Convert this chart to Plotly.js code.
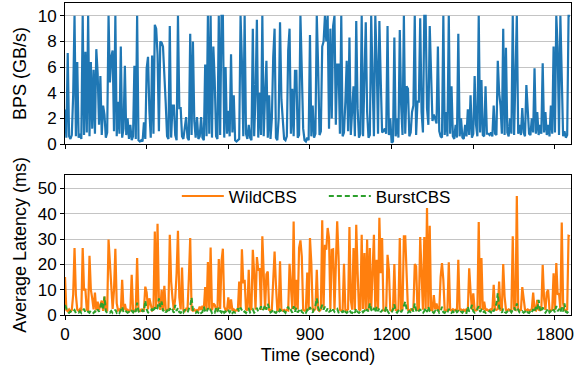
<!DOCTYPE html>
<html>
<head>
<meta charset="utf-8">
<script src="https://cdn.plot.ly/plotly-3.0.1.min.js"></script>
<style>html,body{margin:0;padding:0;background:#fff;}#chart{width:584px;height:366px;}</style>
</head>
<body>
<div id="chart"></div>
<script>
// Sampling interval of the series (seconds)
const STEP = 5;

// BPS (GB/s), one value per 5 s
const bps = [
2.7,0.5,7.1,0.6,0.4,0.7,3.8,10,0.6,6.4,
0.5,0.8,0.4,10,0.7,7.2,0.9,10,0.6,6.4,
1.2,5.8,0.8,7.4,5.5,1.5,5.3,0.7,3.0,2.3,
0.5,0.9,10,4.8,6.8,7.3,1.0,10,0.6,3.3,
0.8,7.6,0.5,1.2,6.1,0.7,2.0,0.4,1.5,0.3,
0.6,6.1,0.4,10,0.3,0.2,0.3,0.2,1.7,0.4,
5.9,6.8,2.6,0.5,6.9,0.8,9.3,9.0,7.0,1.0,
8.0,7.9,7.6,5.8,3.2,0.6,0.4,9.2,0.5,3.0,
3.0,0.7,0.3,10,2.8,2.8,0.6,0.4,1.5,2.1,
0.5,0.3,8.6,0.7,8.0,1.8,0.5,2.1,0.4,0.6,
2.1,0.5,0.3,6.2,0.6,10,0.8,10,0.5,7.6,
5.0,0.6,0.4,10,0.7,10,10,0.5,6.0,0.8,
2.6,0.6,7.0,0.9,3.8,0.3,0.2,0.3,0.4,10,
6.4,0.6,10,0.8,0.4,1.5,0.5,0.3,9.0,0.6,
3.8,9.7,0.5,4.0,0.7,10,0.6,3.8,6.5,0.5,
3.8,0.4,2.0,6.8,9.0,0.5,0.3,2.0,9.5,3.5,
2.0,0.4,0.3,0.6,7.3,9.0,0.8,4.3,0.6,5.7,
5.7,0.5,0.7,10,5.7,1.2,0.3,0.2,0.5,0.3,
8.5,0.6,3.0,0.5,0.8,10,6.0,0.7,1.0,7.6,
8.0,10,8.0,10,1.2,9.0,2.0,9.2,10,1.5,
6.2,6.2,0.8,10,0.6,0.9,3.3,6.5,1.0,8.3,
0.7,2.8,4.5,0.6,9.6,2.8,0.5,0.8,10,0.6,
6.5,9.5,2.5,0.5,0.7,10,5.0,0.6,10,6.5,
0.8,9.6,5.0,0.9,1.0,1.2,0.8,9.2,0.7,2.0,
0.1,0.2,8.3,0.6,2.0,0.5,8.9,3.0,0.7,10,
0.8,4.5,4.3,0.6,0.9,2.5,3.0,10,0.7,3.3,
3.3,9.8,2.5,0.9,10,10,2.8,1.5,9.2,5.0,
1.8,2.3,1.9,1.6,7.6,1.0,0.6,0.5,10,0.7,
2.5,0.6,10,0.8,4.5,0.6,0.4,1.5,0.5,8.6,
0.6,2.0,0.5,0.4,1.5,0.6,2.7,0.7,3.8,0.5,
0.8,5.3,1.5,0.6,10,0.9,5.0,0.7,0.6,4.5,
0.8,0.8,0.7,0.9,0.6,3.0,0.8,0.7,6.5,4.0,
3.0,0.8,9.0,0.7,7.5,0.9,0.6,2.0,0.8,10,
0.7,6.5,10,0.8,1.5,0.7,2.8,0.9,0.6,4.6,
2.6,0.8,0.7,2.0,0.9,5.9,0.8,2.5,0.7,1.5,
0.8,6.3,0.9,2.5,0.7,1.5,0.6,3.0,0.8,7.6,
0.9,10,7.5,0.7,10,4.5,0.6,1.0,0.5,0.7,
10,10
];

// Average latency (ms), WildCBS
const wildCBS = [
15,2,1.5,2.2,1.4,2.0,8,26.5,8,2.1,
1.6,2.3,1.5,26.5,10,10,2.0,1.7,23.4,10,
6.6,2.2,8.9,1.8,5.3,2.0,4.0,5.7,1.6,7.3,
2.0,1.5,29.8,19.2,13.2,2.4,9.7,26.2,4.6,1.8,
2.2,1.5,13.9,2.0,4.4,1.7,2.1,1.4,2.0,15.9,
2.0,1.6,2.3,22.5,1.8,1.5,2.1,1.6,2.0,11.2,
8.9,2.2,6.6,3.3,1.8,2.2,33,2.5,36.1,5.3,
2.0,10,1.8,11.5,2.1,1.6,2.3,31.7,13.2,6.6,
2.0,6.6,16.5,33.3,6.9,2.2,18.8,1.9,1.5,2.4,
2.0,14.5,30.4,2.1,1.7,2.2,1.5,2.0,1.8,3.3,
2.0,3.6,2.2,11,2.0,20.9,2.3,26.7,1.9,4.6,
4.0,2.1,1.7,22.1,2.4,21.2,26.2,3.3,2.0,1.6,
7,2.1,6.2,1.7,2.2,1.5,2.0,1.8,13.2,2.5,
26,12.6,13.9,2.2,1.8,17.9,2.0,2.4,25.8,16.5,
2.1,22.9,17.9,18.1,2.0,31.1,19.2,2.2,16.1,17.2,
2.0,1.6,2.3,16.5,25.1,11.9,2.0,1.8,21.2,2.2,
1.7,2.0,1.5,2.1,1.8,20.2,8.6,2.3,37,2.0,
13.9,2.2,26.5,29.5,23.1,2.0,1.7,2.2,16.8,2.0,
30.4,20.5,2.1,1.8,2.4,17.9,2.0,1.6,2.2,37.4,
2.5,27.8,25.8,34.4,30.4,2.3,25.8,26,2.1,25.8,
37,23.1,2.0,1.7,2.2,20.2,2.0,1.8,2.3,34.8,
6,2.1,26.5,2.0,35.7,17.2,2.2,1.8,31.7,2.4,
24.5,2.0,29.8,1.9,26.5,2.2,21.2,31.7,2.0,21.8,
2.3,38.4,16.5,30.4,2.0,1.7,2.2,23.8,17.9,2.0,
1.6,2.2,20.1,2.0,1.8,2.3,30.4,2.1,2.4,31.1,
31.1,19.2,2.0,1.7,2.2,1.9,2.3,20.1,19.2,2.0,
2.2,30.8,11.9,2.1,30.8,2.4,42.3,2.2,35.3,2.0,
1.8,7.9,2.2,4.6,1.9,2.1,15,20.5,13.9,2.0,
1.7,2.2,20.8,2.0,1.8,2.3,1.9,2.1,1.7,21.8,
2.0,2.2,1.8,2.1,1.6,2.3,2.0,18.5,9.3,2.1,
8.6,2.0,1.8,2.2,36.8,2.4,22.5,2.0,5.3,1.9,
2.2,1.7,2.0,2.3,1.8,11.9,2.1,2.0,2.4,13.2,
2.0,2.2,20.1,7.3,2.0,1.8,2.2,1.9,2.1,31.1,
2.3,2.0,47,2.2,1.8,2.0,11,7.3,2.1,1.9,
2.2,1.7,2.0,2.3,8.9,2.0,1.8,6,2.1,1.9,
2.2,19.8,6.6,2.0,8.9,10,2.1,1.8,2.2,16.5,
2.0,20.5,8,8.6,2.1,36.6,4.6,2.0,1.8,2.2,
31.3,31.1
];

// Average latency (ms), BurstCBS
const burstCBS = [
4,2.6,1.2,0.8,1.5,0.9,1.3,2.0,0.7,1.1,
0.9,1.6,0.8,1.4,2.4,1.0,0.7,1.3,0.9,1.8,
1.1,0.8,1.5,0.9,2.2,1.3,3.0,5.3,2.0,7.3,
1.5,0.8,1.2,0.9,1.6,0.8,1.3,2.1,0.9,1.4,
0.8,1.9,3.3,1.0,0.8,1.4,0.9,1.2,0.7,1.6,
1.0,2.3,1.2,4.9,1.5,0.8,1.1,2.0,1.3,5.7,
2.2,1.0,0.8,1.5,2.5,1.2,3.1,1.8,2.6,6.6,
3.2,5.3,1.5,2.3,1.0,1.8,0.9,2.7,1.4,2.0,
0.9,4.0,1.6,2.8,1.1,0.8,1.7,1.0,2.2,1.3,
0.9,2.4,3.5,6.9,2.0,1.1,0.8,1.4,0.9,1.6,
0.8,1.2,3.3,1.5,0.9,2.7,1.4,2.0,0.8,1.3,
0.9,2.6,1.2,3.0,1.5,1.0,2.2,0.9,1.4,0.8,
1.7,1.0,2.0,0.8,1.3,0.9,1.5,2.6,1.2,2.9,
1.6,0.9,1.4,0.8,1.8,2.4,1.0,1.6,2.2,0.9,
1.5,2.8,1.3,2.0,3.4,1.8,2.5,3.9,2.1,4.4,
2.2,1.0,1.4,2.3,1.1,0.8,1.6,0.9,2.1,1.2,
0.8,1.5,0.9,2.4,3.3,1.4,2.0,0.9,3.5,1.3,
2.9,1.0,1.7,2.6,1.2,0.8,1.5,0.9,2.0,1.3,
3.1,1.6,0.9,2.7,3.5,6.6,3.0,1.5,2.3,4.0,
2.1,3.3,1.4,2.6,1.1,1.9,0.9,2.2,1.3,2.0,
2.4,1.0,0.8,1.6,0.9,2.3,1.2,0.8,1.5,2.1,
1.0,0.8,1.8,0.9,2.6,1.2,0.8,1.4,2.0,1.1,
1.7,0.9,2.3,1.4,4.6,2.0,1.2,2.8,1.0,3.3,
1.5,2.7,1.1,1.8,0.9,1.4,3.3,1.6,0.8,1.3,
0.9,2.2,4.2,1.5,0.9,1.7,2.4,1.1,2.0,3.6,
5.3,2.2,1.0,1.6,0.9,2.5,1.3,4.6,1.8,0.9,
1.4,2.3,1.0,0.8,1.6,2.8,1.2,3.3,1.5,0.9,
1.3,0.8,1.6,1.0,2.1,0.9,1.4,3.3,1.1,0.8,
1.7,1.0,2.4,1.2,0.8,1.5,0.9,2.0,1.1,1.6,
0.8,1.3,0.9,1.8,1.0,0.8,3.3,1.4,2.0,4.0,
1.5,0.9,1.3,2.2,3.5,1.2,2.0,0.9,1.5,0.8,
1.2,0.9,1.6,1.0,2.3,1.4,2.8,4.5,8.6,3.0,
1.6,0.9,2.4,1.2,0.8,1.4,0.9,1.7,1.0,2.2,
3.0,1.8,4.6,2.0,1.0,0.8,1.5,0.9,1.3,2.1,
1.0,0.8,1.6,0.9,2.3,1.1,3.2,2.0,6.0,2.4,
1.2,3.0,1.4,0.9,1.7,2.6,1.0,1.5,0.9,2.2,
1.1,3.6,1.5,2.4,1.0,3.0,1.4,4.6,1.2,0.9,
1.5,1.1
];

const time = bps.map((_, i) => i * STEP);

const xTickVals = [0, 300, 600, 900, 1200, 1500, 1800];
const xTickText = ['0', '300', '600', '900', '1200', '1500', '1800'];
const bpsTicks = [0, 2, 4, 6, 8, 10];
const latTicks = [0, 10, 20, 30, 40, 50];

const FONT = 'Liberation Sans, Arial, sans-serif';

const traces = [
  { x: time, y: bps, type: 'scatter', mode: 'lines', xaxis: 'x', yaxis: 'y',
    line: { color: '#1f77b4', width: 2.2 }, showlegend: false, name: 'BPS' },
  { x: time, y: wildCBS, type: 'scatter', mode: 'lines', xaxis: 'x2', yaxis: 'y2',
    line: { color: '#ff7f0e', width: 2.2 }, name: 'WildCBS' },
  { x: time, y: burstCBS, type: 'scatter', mode: 'lines', xaxis: 'x2', yaxis: 'y2',
    line: { color: '#2ca02c', width: 2, dash: '5px,3px' }, name: 'BurstCBS' }
];

const axCommon = {
  showline: true, linecolor: '#000', linewidth: 1, mirror: true,
  ticks: 'outside', ticklen: 4, tickcolor: '#000', tickwidth: 1,
  zeroline: false, tickfont: { family: FONT, size: 17, color: '#000' }
};

const layout = {
  width: 584, height: 366,
  margin: { l: 65, r: 13, t: 3, b: 51 },
  paper_bgcolor: '#fff', plot_bgcolor: '#fff',
  font: { family: FONT, size: 17, color: '#000' },
  xaxis: Object.assign({}, axCommon, {
    domain: [0, 1], anchor: 'y', range: [0, 1859], showticklabels: false,
    tickvals: xTickVals, showgrid: false, matches: 'x2'
  }),
  yaxis: Object.assign({}, axCommon, {
    domain: [0.548, 1], anchor: 'x', range: [0, 11],
    tickvals: bpsTicks, showgrid: true, gridcolor: '#c4c4c4', gridwidth: 1.2,
    title: { text: 'BPS (GB/s)', font: { family: FONT, size: 18, color: '#000' }, standoff: 6 }
  }),
  xaxis2: Object.assign({}, axCommon, {
    domain: [0, 1], anchor: 'y2', range: [0, 1859],
    tickvals: xTickVals, ticktext: xTickText, showgrid: false,
    title: { text: 'Time (second)', font: { family: FONT, size: 18, color: '#000' }, standoff: 4 }
  }),
  yaxis2: Object.assign({}, axCommon, {
    domain: [0, 0.45], anchor: 'x2', range: [0, 55.5],
    tickvals: latTicks, showgrid: true, gridcolor: '#c4c4c4', gridwidth: 1.2,
    title: { text: 'Average Latency (ms)', font: { family: FONT, size: 18, color: '#000' }, standoff: 6 }
  }),
  legend: {
    orientation: 'h', x: 0.221, xanchor: 'left', y: 0.38, yanchor: 'middle',
    bgcolor: 'rgba(0,0,0,0)', borderwidth: 0,
    font: { family: FONT, size: 17, color: '#000' },
    itemwidth: 42,
    entrywidth: 90, entrywidthmode: 'pixels', tracegroupgap: 0
  },
  showlegend: true
};

Plotly.newPlot('chart', traces, layout, { staticPlot: true, displayModeBar: false });
</script>
</body>
</html>
